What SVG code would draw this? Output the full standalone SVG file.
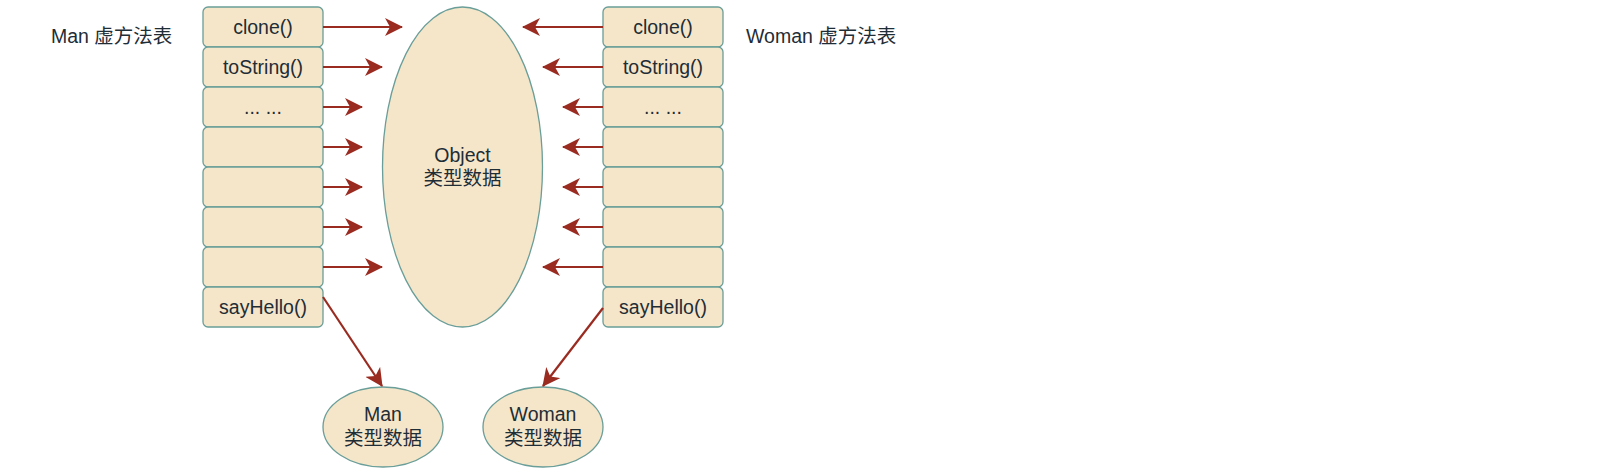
<svg xmlns="http://www.w3.org/2000/svg" width="1620" height="474" viewBox="0 0 1620 474">
<style>
.box{fill:#F5E6CA;stroke:#6A9E98;stroke-width:1.3}
.t{font-family:"Liberation Sans","Noto Sans CJK SC",sans-serif;font-size:19.5px;fill:#1F2D36;text-anchor:middle}
.lbl{font-family:"Liberation Sans","Noto Sans CJK SC",sans-serif;font-size:19.5px;fill:#1F2D36}
.c{fill:none;stroke:#9A2B20;stroke-width:2.2;marker-end:url(#ah)}
</style>
<defs>
<marker id="ah" viewBox="0 0 18 18" refX="17" refY="9" markerWidth="18" markerHeight="18" markerUnits="userSpaceOnUse" orient="auto">
<path d="M0,0 L18,9 L0,18 L5,9 Z" fill="#9A2B20"/>
</marker>
</defs>
<rect width="1620" height="474" fill="#ffffff"/>
<g id="man-label"><text class="lbl" x="51" y="43">Man 虚方法表</text></g>
<g id="woman-label"><text class="lbl" x="746" y="43">Woman 虚方法表</text></g>
<g id="man-table">
<rect class="box" x="203" y="7" width="120" height="40" rx="5"/>
<text class="t" x="263" y="34">clone()</text>
<rect class="box" x="203" y="47" width="120" height="40" rx="5"/>
<text class="t" x="263" y="74">toString()</text>
<rect class="box" x="203" y="87" width="120" height="40" rx="5"/>
<text class="t" x="263" y="114">... ...</text>
<rect class="box" x="203" y="127" width="120" height="40" rx="5"/>
<rect class="box" x="203" y="167" width="120" height="40" rx="5"/>
<rect class="box" x="203" y="207" width="120" height="40" rx="5"/>
<rect class="box" x="203" y="247" width="120" height="40" rx="5"/>
<rect class="box" x="203" y="287" width="120" height="40" rx="5"/>
<text class="t" x="263" y="314">sayHello()</text>
</g>
<g id="woman-table">
<rect class="box" x="603" y="7" width="120" height="40" rx="5"/>
<text class="t" x="663" y="34">clone()</text>
<rect class="box" x="603" y="47" width="120" height="40" rx="5"/>
<text class="t" x="663" y="74">toString()</text>
<rect class="box" x="603" y="87" width="120" height="40" rx="5"/>
<text class="t" x="663" y="114">... ...</text>
<rect class="box" x="603" y="127" width="120" height="40" rx="5"/>
<rect class="box" x="603" y="167" width="120" height="40" rx="5"/>
<rect class="box" x="603" y="207" width="120" height="40" rx="5"/>
<rect class="box" x="603" y="247" width="120" height="40" rx="5"/>
<rect class="box" x="603" y="287" width="120" height="40" rx="5"/>
<text class="t" x="663" y="314">sayHello()</text>
</g>
<g id="object-data">
<ellipse class="box" cx="462.5" cy="167" rx="80" ry="160"/>
<text class="t" x="462.5" y="162">Object</text>
<text class="t" x="462.5" y="185">类型数据</text>
</g>
<g id="man-data">
<ellipse class="box" cx="383" cy="427" rx="60" ry="40"/>
<text class="t" x="383" y="421">Man</text>
<text class="t" x="383" y="445">类型数据</text>
</g>
<g id="woman-data">
<ellipse class="box" cx="543" cy="427" rx="60" ry="40"/>
<text class="t" x="543" y="421">Woman</text>
<text class="t" x="543" y="445">类型数据</text>
</g>
<g id="connectors">
<path class="c" d="M323,27 L402,27"/>
<path class="c" d="M323,67 L382,67"/>
<path class="c" d="M323,107 L362,107"/>
<path class="c" d="M323,147 L362,147"/>
<path class="c" d="M323,187 L362,187"/>
<path class="c" d="M323,227 L362,227"/>
<path class="c" d="M323,267 L382,267"/>
<path class="c" d="M603,27 L523,27"/>
<path class="c" d="M603,67 L543,67"/>
<path class="c" d="M603,107 L563,107"/>
<path class="c" d="M603,147 L563,147"/>
<path class="c" d="M603,187 L563,187"/>
<path class="c" d="M603,227 L563,227"/>
<path class="c" d="M603,267 L543,267"/>
<path class="c" d="M323,297 L382,386"/>
<path class="c" d="M603,308 L543,386"/>
</g>
</svg>
